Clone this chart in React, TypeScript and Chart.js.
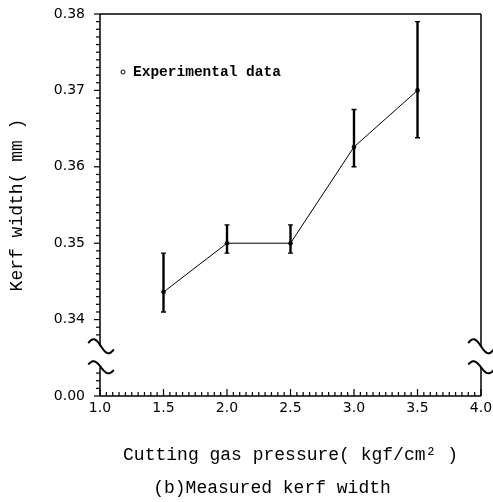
import React, { useEffect, useRef } from "react";
import { Chart, registerables } from "chart.js";

Chart.register(...registerables);

// ---- data ----
const pressures = [1.5, 2.0, 2.5, 3.0, 3.5];
const kerfWidth = [0.3436, 0.35, 0.35, 0.3626, 0.37];
const errorHigh = [0.3487, 0.3524, 0.3524, 0.3675, 0.379];
const errorLow = [0.341, 0.3487, 0.3487, 0.36, 0.3638];
const xTickValues = [1.0, 1.5, 2.0, 2.5, 3.0, 3.5, 4.0];
const xTickLabels = ["1.0", "1.5", "2.0", "2.5", "3.0", "3.5", "4.0"];
// bottom tick (0.33 on the continuous scale) stands for 0.00 across the axis break
const yTickValues = [0.33, 0.34, 0.35, 0.36, 0.37, 0.38];
const yTickLabels = ["0.00", "0.34", "0.35", "0.36", "0.37", "0.38"];
const seriesLabel = "Experimental data";
const xTitle = "Cutting gas pressure( kgf/cm\u00B2 )";
const yTitle = "Kerf width( mm )";
const caption = "(b)Measured kerf width";

// axis break (in y units of the continuous scale)
const breakUpper = 0.33651;
const breakLower = 0.33376;

const SERIF_MONO = "'Liberation Mono', 'DejaVu Sans Mono', monospace";
const SANS = "'DejaVu Sans', sans-serif";

function squiggle(ctx: CanvasRenderingContext2D, cx: number, cy: number, w: number, a: number) {
  ctx.beginPath();
  const n = 40;
  for (let i = 0; i <= n; i++) {
    const t = -0.85 + (1.7 * i) / n;
    const x = cx + t * w;
    const y = cy + a * Math.sin(Math.PI * t);
    if (i === 0) ctx.moveTo(x, y);
    else ctx.lineTo(x, y);
  }
  ctx.stroke();
}

const framePlugin = {
  id: "frame",
  afterDraw(chart: any) {
    const ctx: CanvasRenderingContext2D = chart.ctx;
    const xs = chart.scales.x;
    const ys = chart.scales.y;
    const { left, right, top, bottom } = chart.chartArea;
    const yBU = ys.getPixelForValue(breakUpper);
    const yBL = ys.getPixelForValue(breakLower);
    ctx.save();
    ctx.strokeStyle = "#000";
    ctx.fillStyle = "#000";
    ctx.lineCap = "butt";

    // frame lines
    ctx.lineWidth = 1.5;
    ctx.beginPath();
    ctx.moveTo(left, top);
    ctx.lineTo(right, top);
    ctx.moveTo(left, bottom);
    ctx.lineTo(right, bottom);
    ctx.moveTo(left, top);
    ctx.lineTo(left, yBU);
    ctx.moveTo(left, yBL);
    ctx.lineTo(left, bottom);
    ctx.moveTo(right, top);
    ctx.lineTo(right, yBU);
    ctx.moveTo(right, yBL);
    ctx.lineTo(right, bottom);
    ctx.stroke();

    // y ticks (outward, every 0.001)
    for (let k = 330; k <= 380; k++) {
      const v = k / 1000;
      if (v > breakLower - 0.0003 && v < breakUpper + 0.0012) continue;
      const py = ys.getPixelForValue(v);
      const len = k % 10 === 0 ? 6 : 4;
      ctx.fillRect(left - len, py - 0.6, len, 1.2);
    }

    // x ticks (inward, every 0.05)
    for (let k = 20; k <= 80; k++) {
      const v = k / 20;
      const px = xs.getPixelForValue(v);
      const len = k % 10 === 0 ? 7 : 4;
      ctx.fillRect(px - 0.6, bottom - len, 1.2, len);
    }

    // break marks
    ctx.lineWidth = 2;
    squiggle(ctx, left + 1, yBU, 15, 7);
    squiggle(ctx, left + 1, yBL, 15, 6);
    squiggle(ctx, right, yBU, 15, 7);
    squiggle(ctx, right, yBL, 15, 6);

    // legend
    ctx.lineWidth = 1;
    ctx.beginPath();
    ctx.arc(left + 23, top + 58, 2, 0, Math.PI * 2);
    ctx.stroke();
    ctx.font = "bold 14.5px " + SERIF_MONO;
    ctx.textAlign = "left";
    ctx.textBaseline = "middle";
    ctx.fillText(seriesLabel, left + 33, top + 58);

    // caption
    ctx.font = "18px " + SERIF_MONO;
    ctx.textAlign = "center";
    ctx.fillText(caption, 272, 488);
    ctx.restore();
  },
};

const errorBarPlugin = {
  id: "errorBars",
  afterDatasetsDraw(chart: any) {
    const ctx: CanvasRenderingContext2D = chart.ctx;
    const xs = chart.scales.x;
    const ys = chart.scales.y;
    ctx.save();
    ctx.strokeStyle = "#000";
    for (let i = 0; i < pressures.length; i++) {
      const px = xs.getPixelForValue(pressures[i]);
      const pt = ys.getPixelForValue(errorHigh[i]);
      const pb = ys.getPixelForValue(errorLow[i]);
      ctx.lineWidth = 2.4;
      ctx.beginPath();
      ctx.moveTo(px, pt);
      ctx.lineTo(px, pb);
      ctx.stroke();
      ctx.lineWidth = 1.4;
      ctx.beginPath();
      ctx.moveTo(px - 2.5, pt);
      ctx.lineTo(px + 2.5, pt);
      ctx.moveTo(px - 2.5, pb);
      ctx.lineTo(px + 2.5, pb);
      ctx.stroke();
    }
    ctx.restore();
  },
};

export default function App() {
  const canvasRef = useRef<HTMLCanvasElement | null>(null);

  useEffect(() => {
    const canvas = canvasRef.current;
    if (!canvas) return;
    const chart = new Chart(canvas, {
      type: "line",
      data: {
        datasets: [
          {
            label: seriesLabel,
            data: pressures.map((x, i) => ({ x, y: kerfWidth[i] })),
            borderColor: "#000",
            backgroundColor: "#000",
            borderWidth: 1,
            pointRadius: 2.3,
            pointBackgroundColor: "#000",
            pointBorderWidth: 0,
            tension: 0,
          },
        ],
      },
      options: {
        responsive: false,
        animation: false,
        layout: { padding: { top: 14, right: 12, left: 0, bottom: 0 } },
        plugins: { legend: { display: false }, tooltip: { enabled: false } },
        scales: {
          x: {
            type: "linear",
            min: 1,
            max: 4,
            grid: { display: false, drawTicks: false },
            border: { display: false },
            afterBuildTicks: (scale: any) => {
              scale.ticks = xTickValues.map((v) => ({ value: v }));
            },
            afterFit: (scale: any) => {
              scale.height = 106;
              scale.paddingLeft = 0;
              scale.paddingRight = 0;
            },
            ticks: {
              autoSkip: false,
              maxRotation: 0,
              padding: 4,
              color: "#000",
              font: { family: SANS, size: 14 },
              callback: (_v: any, i: number) => xTickLabels[i],
            },
            title: {
              display: true,
              text: xTitle,
              color: "#000",
              font: { family: SERIF_MONO, size: 18 },
              padding: { top: 0, bottom: 36 },
            },
          },
          y: {
            type: "linear",
            min: 0.33,
            max: 0.38,
            grid: { display: false, drawTicks: false },
            border: { display: false },
            afterBuildTicks: (scale: any) => {
              scale.ticks = yTickValues.map((v) => ({ value: v }));
            },
            afterFit: (scale: any) => {
              scale.width = 100;
              scale.paddingTop = 0;
              scale.paddingBottom = 0;
            },
            ticks: {
              autoSkip: false,
              padding: 15,
              color: "#000",
              font: { family: SANS, size: 14 },
              callback: (_v: any, i: number) => yTickLabels[i],
            },
            title: {
              display: true,
              text: yTitle,
              color: "#000",
              font: { family: SERIF_MONO, size: 18 },
              padding: { top: 6, bottom: 0 },
            },
          },
        },
      },
      plugins: [errorBarPlugin, framePlugin],
    });
    return () => chart.destroy();
  }, []);

  return (
    <div style={{ position: "absolute", left: 0, top: 0, width: 493, height: 502, background: "#fff" }}>
      <canvas ref={canvasRef} width={493} height={502} />
    </div>
  );
}
